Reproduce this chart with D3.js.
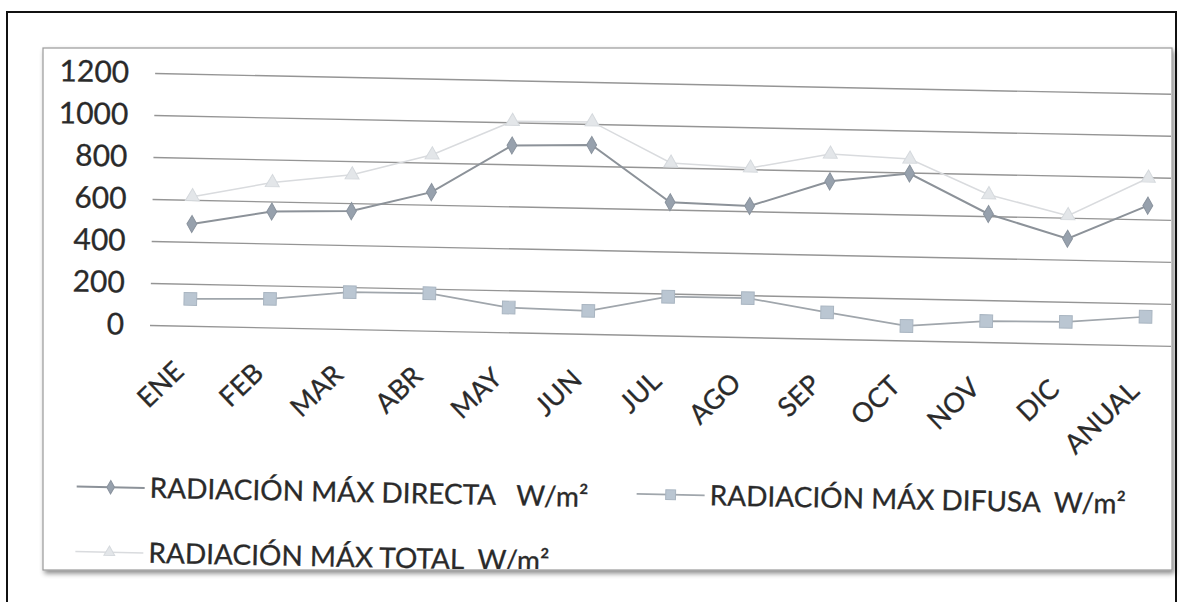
<!DOCTYPE html>
<html><head><meta charset="utf-8">
<script src="https://cdn.jsdelivr.net/npm/d3@7"></script>
<style>body{margin:0;background:#fff}svg{display:block}</style></head>
<body><svg id="c" width="1183" height="602"></svg>
<script>
const categories = ["ENE","FEB","MAR","ABR","MAY","JUN","JUL","AGO","SEP","OCT","NOV","DIC","ANUAL"];
const directa = [485,552,562,660,890,900,635,625,750,795,610,500,665];
const difusa  = [128,136,176,178,118,110,185,186,126,69,100,104,136];
const total   = [615,690,735,838,1005,1010,822,806,880,864,702,610,797];
const yTicks = [0,200,400,600,800,1000,1200];
const seriesNames = ["RADIACIÓN MÁX DIRECTA   W/m²","RADIACIÓN MÁX DIFUSA  W/m²","RADIACIÓN MÁX TOTAL  W/m²"];

const svg = d3.select("#c");
const FONT = "Lato, 'Open Sans', sans-serif";
const TXT = "#2a2a2a";
const defs = svg.append("defs");
const f = defs.append("filter").attr("id","sh").attr("x","-5%").attr("y","-5%").attr("width","110%").attr("height","112%");
f.append("feDropShadow").attr("dx",2).attr("dy",3).attr("stdDeviation",2.5).attr("flood-color","#000").attr("flood-opacity",0.45);
defs.append("clipPath").attr("id","pc").append("rect").attr("x",44).attr("y",49).attr("width",1127).attr("height",520);

// outer frame
svg.append("path").attr("d","M7,604 L7,12 L1176,12 L1176,604").attr("fill","none").attr("stroke","#111").attr("stroke-width",2);
// panel
svg.append("rect").attr("x",43).attr("y",48).attr("width",1129).attr("height",522)
  .attr("fill","#fff").attr("stroke","#9a9a9a").attr("stroke-width",1.2).attr("filter","url(#sh)");

const x = d3.scaleBand().domain(categories).range([150,1185]);
const y = d3.scaleLinear().domain([0,1200]).range([325,73]);
const cx = d => x(d) + x.bandwidth()/2;

const g = svg.append("g").attr("clip-path","url(#pc)")
  .append("g").attr("transform","rotate(1.17,150,325)");

// gridlines via axis
const yAxis = d3.axisLeft(y).tickValues(yTicks).tickSize(-1040).tickPadding(30).tickFormat(d3.format("d"));
const ga = g.append("g").attr("transform","translate(150,0)").call(yAxis);
ga.select(".domain").remove();
ga.selectAll(".tick line").attr("stroke","#959595").attr("stroke-width",1.4);
ga.selectAll(".tick text").attr("font-family",FONT).attr("font-size",30).attr("fill",TXT)
  .attr("stroke",TXT).attr("stroke-width",0.3).attr("x",-26);

// x labels
const xa = g.append("g").attr("transform","translate(-10,366)")
  .call(d3.axisBottom(x).tickSize(0).tickPadding(0));
xa.select(".domain").remove();
xa.selectAll(".tick text").attr("font-family",FONT).attr("font-size",27).attr("fill",TXT)
  .attr("stroke",TXT).attr("stroke-width",0.3)
  .attr("text-anchor","end").attr("dy","0.35em").attr("transform","rotate(-45)");

const series = [
  {name:seriesNames[0], vals:directa, stroke:"#8c9299", sw:2, sym:d3.symbolDiamond, size:85, fill:"#97a1ad", mstroke:"#8a939e"},
  {name:seriesNames[1], vals:difusa,  stroke:"#a0a6ac", sw:1.7, sym:d3.symbolSquare, size:160, fill:"#bac6d2", mstroke:"#a9b5c1"},
  {name:seriesNames[2], vals:total,   stroke:"#d9dbde", sw:1.5, sym:d3.symbolTriangle, size:85, fill:"#e3e6e9", mstroke:"#d5d9dd"}
];
const line = d3.line().x((d,i)=>cx(categories[i])).y(d=>y(d));
[series[2],series[1],series[0]].forEach(s=>{
  g.append("path").datum(s.vals).attr("d",line).attr("fill","none").attr("stroke",s.stroke).attr("stroke-width",s.sw);
  g.selectAll(null).data(s.vals).enter().append("path")
    .attr("d",d3.symbol().type(s.sym).size(s.size))
    .attr("transform",(d,i)=>`translate(${cx(categories[i])},${y(d)})`)
    .attr("fill",s.fill).attr("stroke",s.mstroke).attr("stroke-width",1);
});

// legend
const legPos = [[80,488],[640,484],[80,553]];
series.forEach((s,i)=>{
  const [lx,ly] = legPos[i];
  const lg = g.append("g").attr("transform",`translate(${lx},${ly})`);
  lg.append("line").attr("x1",0).attr("x2",68).attr("stroke",s.stroke).attr("stroke-width",s.sw);
  lg.append("path").attr("d",d3.symbol().type(s.sym).size(s.size*0.6)).attr("transform","translate(34,0)")
    .attr("fill",s.fill).attr("stroke",s.mstroke);
  lg.append("text").attr("x",73).attr("dy","0.35em").text(s.name)
    .attr("font-family",FONT).attr("font-size",28).attr("fill",TXT).attr("stroke",TXT).attr("stroke-width",0.3)
    .style("white-space","pre");
});
</script></body></html>
